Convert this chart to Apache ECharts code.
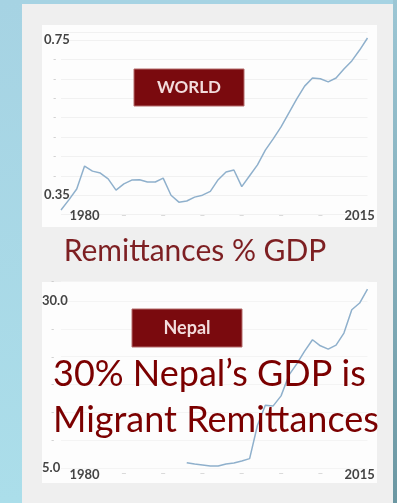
<!DOCTYPE html>
<html>
<head>
<meta charset="utf-8">
<script src="https://cdn.jsdelivr.net/npm/echarts@6/dist/echarts.min.js"></script>
<style>
  html, body { margin: 0; padding: 0; }
  #chart { width: 397px; height: 503px; }
</style>
</head>
<body>
<div id="chart"></div>
<script>
(function() {
    'use strict';

    // years on both panels
    var years = [];
    for (var y = 1977; y <= 2016; y++) { years.push(String(y)); }

    // remittances % GDP, world (1977..2016)
    var worldValues = [
        0.312, 0.338, 0.366, 0.425, 0.412, 0.407, 0.392, 0.363, 0.379, 0.389,
        0.390, 0.384, 0.384, 0.394, 0.350, 0.332, 0.335, 0.345, 0.350, 0.360,
        0.390, 0.410, 0.415, 0.372, 0.400, 0.428, 0.466, 0.495, 0.526, 0.562,
        0.598, 0.631, 0.652, 0.650, 0.642, 0.652, 0.675, 0.696, 0.724, 0.755
    ];

    // remittances % GDP, Nepal (1993..2016, earlier years empty)
    var nepalValues = [
        null, null, null, null, null, null, null, null, null, null,
        null, null, null, null, null, null,
        5.8, 5.6, 5.45, 5.3, 5.3, 5.6, 5.75, 6.05, 6.4, 11.4,
        14.4, 14.3, 15.8, 18.9, 20.6, 22.5, 24.2, 23.3, 22.8, 23.4,
        25.2, 28.7, 29.7, 31.8
    ];

    var worldTickLabels = { 35: '0.35', 75: '0.75' };
    var nepalTickLabels = ['5.0', '-', '-', '-', '-', '-', '30.0'];
    var yearLabels = { '1980': '1980', '2015': '2015' };

    var RED = '#7a0a0e';
    var LINE = '#8fb0cc';
    var LABEL = '#444';

    var xLabel = function(margin) {
        return {
            interval: function(i, v) { return (+v) % 5 === 0; },
            margin: margin,
            formatter: function(v) {
                return yearLabels[v] ? '{b|' + yearLabels[v] + '}' : '{d|–}';
            },
            rich: {
                b: { fontFamily: 'Lato', fontWeight: 'bold', fontSize: 13, color: LABEL },
                d: { fontFamily: 'Lato', fontSize: 10, color: '#c8c8c8' }
            }
        };
    };

    var xAxisBase = function(idx, margin) {
        return {
            type: 'category', gridIndex: idx, data: years, boundaryGap: false,
            axisLine: { show: false }, axisTick: { show: false },
            splitLine: { show: false },
            axisLabel: xLabel(margin)
        };
    };

    var dashRich = {
        b: { fontFamily: 'Lato', fontWeight: 'bold', fontSize: 13, color: LABEL },
        d: { fontFamily: 'Lato', fontSize: 9, color: '#c4c4c4', padding: [0, 0, 0, 9] }
    };

    var myChart = echarts.init(document.getElementById('chart'));

    var option = {
        animation: false,
        backgroundColor: {
            type: 'linear', x: 0, y: 0, x2: 0, y2: 1,
            colorStops: [{ offset: 0, color: '#a6d3e3' }, { offset: 1, color: '#abdeea' }]
        },
        graphic: [
            { type: 'rect', z: -10, shape: { x: 393, y: 0, width: 4, height: 503 },
              style: { fill: { type: 'linear', x: 0, y: 0, x2: 0, y2: 1,
                  colorStops: [{ offset: 0, color: '#9cc6d4' }, { offset: 1, color: '#6b97a2' }] } } },
            { type: 'rect', z: -10, shape: { x: 22, y: 4, width: 371, height: 499 },
              style: { fill: '#efefef' } },
            { type: 'rect', z: -9, shape: { x: 42, y: 25, width: 335, height: 202 },
              style: { fill: '#fdfdfd' } },
            { type: 'rect', z: -9, shape: { x: 42, y: 282, width: 335, height: 201 },
              style: { fill: '#fdfdfd' } },

            { type: 'rect', z: 50, shape: { x: 134, y: 69, width: 110, height: 37 },
              style: { fill: RED, stroke: '#b46a6a', lineWidth: 1 } },
            { type: 'text', z: 51, x: 189, y: 88,
              style: { text: 'WORLD', fill: '#f2dcdc', font: 'bold 17px Lato',
                       align: 'center', verticalAlign: 'middle' } },

            { type: 'text', z: 51, x: 195, y: 251,
              style: { text: 'Remittances % GDP', fill: '#7d1f22', font: '30px Lato',
                       align: 'center', verticalAlign: 'middle' } },

            { type: 'rect', z: 50, shape: { x: 132, y: 309, width: 110, height: 38 },
              style: { fill: RED, stroke: '#b46a6a', lineWidth: 1 } },
            { type: 'text', z: 51, x: 187, y: 328,
              style: { text: 'Nepal', fill: '#f2dcdc', font: 'bold 18px Lato',
                       align: 'center', verticalAlign: 'middle' } },

            { type: 'text', z: 51, x: 53, y: 374,
              style: { text: '30% Nepal’s GDP is', fill: '#7b0000', font: '36px Lato',
                       align: 'left', verticalAlign: 'middle' } },
            { type: 'text', z: 51, x: 53, y: 420,
              style: { text: 'Migrant Remittances', fill: '#7b0000', font: '36px Lato',
                       align: 'left', verticalAlign: 'middle' } }
        ],
        grid: [
            { left: 61, right: 29.5, top: 32.2, height: 182.4 },
            { left: 61, right: 29.5, top: 281, height: 187 }
        ],
        xAxis: [xAxisBase(0, -5), xAxisBase(1, 0)],
        yAxis: [
            {
                type: 'value', gridIndex: 0, min: 0.30, max: 0.77, interval: 0.05,
                axisLine: { show: false }, axisTick: { show: false },
                splitLine: { lineStyle: { color: '#f1f1f1', width: 1 } },
                axisLabel: {
                    align: 'left', margin: 17,
                    formatter: function(v) {
                        var k = Math.round(v * 100);
                        if (worldTickLabels[k]) { return '{b|' + worldTickLabels[k] + '}'; }
                        if (k <= 30 || k >= 77) { return ''; }
                        return '{d|-}';
                    },
                    rich: dashRich
                }
            },
            {
                type: 'value', gridIndex: 1, min: 5, max: 33, position: 'left',
                axisLine: { show: false }, axisTick: { show: false },
                splitLine: { show: false }, axisLabel: { show: false }
            },
            {
                // tick positions only: 6 steps between 5.0 and 30.0
                type: 'value', gridIndex: 1, min: 0, max: 28 / (25 / 6), interval: 1,
                position: 'left',
                axisLine: { show: false }, axisTick: { show: false },
                splitLine: { lineStyle: { color: '#f4f4f4', width: 1 } },
                axisLabel: {
                    align: 'left', margin: 19,
                    formatter: function(v) {
                        var i = Math.round(v);
                        if (Math.abs(v - i) > 1e-6) { return '{d|-}'; }
                        var t = nepalTickLabels[i];
                        return t === '-' ? '{d|-}' : '{b|' + t + '}';
                    },
                    rich: dashRich
                }
            }
        ],
        series: [
            {
                type: 'line', name: 'World', xAxisIndex: 0, yAxisIndex: 0,
                data: worldValues, showSymbol: false, z: 10,
                lineStyle: { color: LINE, width: 1.5 }
            },
            {
                type: 'line', name: 'Nepal', xAxisIndex: 1, yAxisIndex: 1,
                data: nepalValues, showSymbol: false, z: 10,
                lineStyle: { color: LINE, width: 1.5 }
            }
        ]
    };

    myChart.setOption(option);
})();
</script>
</body>
</html>
